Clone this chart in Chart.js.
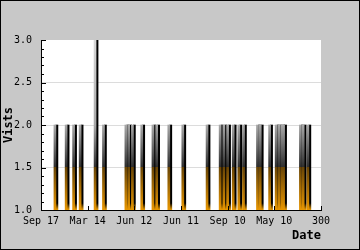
<!DOCTYPE html>
<html>
<head>
<meta charset="utf-8">
<script src="https://cdn.jsdelivr.net/npm/chart.js@4"></script>
<style>
  html, body { margin: 0; padding: 0; background: #c8c8c8; }
  #wrap { width: 360px; height: 250px; }
</style>
</head>
<body>
<div id="wrap"><canvas id="visitsChart" width="360" height="250"></canvas></div>
<script>
// Tick labels along the bottom (one every 50 units)
const xLabels = ['Sep 17', 'Mar 14', 'Jun 12', 'Jun 11', 'Sep 10', 'May 10', '300'];
// Where each spike sits on the 0..300 axis
const dayIndex = [16, 28, 36, 43, 59, 68, 92, 95, 99, 109, 121, 125, 138, 153, 179, 193, 197, 201, 207, 213, 218, 233, 236, 246, 253, 256, 259, 261, 279, 282, 287];
// Visits per spike
const visits = [2, 2, 2, 2, 3, 2, 2, 2, 2, 2, 2, 2, 2, 2, 2, 2, 2, 2, 2, 2, 2, 2, 2, 2, 2, 2, 2, 2, 2, 2, 2];

const spikeData = dayIndex.map((d, i) => ({ x: d, y: [1, visits[i]] }));

Chart.defaults.font.family = 'DejaVu Sans Mono';
Chart.defaults.font.size = 10;
Chart.defaults.color = '#000';

// shadow part: grey on top, brown/orange below 1.5
function shadowFill(context) {
  const chart = context.chart;
  if (!chart.chartArea) return '#555';
  const y = chart.scales.y;
  const top = y.getPixelForValue(3);
  const bottom = y.getPixelForValue(1);
  const mid = y.getPixelForValue(1.5);
  const two = y.getPixelForValue(2);
  const g = chart.ctx.createLinearGradient(0, top, 0, bottom);
  const f = p => (p - top) / (bottom - top);
  g.addColorStop(0, '#d8d8d8');
  g.addColorStop(f(two), '#a8a8a8');
  g.addColorStop(f(mid) - 0.001, '#2e2e2e');
  g.addColorStop(f(mid), '#6a4606');
  g.addColorStop(1, '#e89600');
  return g;
}

// black line with a short orange foot
function lineFill(context) {
  const chart = context.chart;
  if (!chart.chartArea) return '#000';
  const y = chart.scales.y;
  const top = y.getPixelForValue(3);
  const bottom = y.getPixelForValue(1);
  const g = chart.ctx.createLinearGradient(0, top, 0, bottom);
  g.addColorStop(0, '#000');
  g.addColorStop(0.96, '#000');
  g.addColorStop(1, '#f0a000');
  return g;
}

const framePlugin = {
  id: 'frame',
  beforeDraw(chart) {
    const ctx = chart.ctx;
    const a = chart.chartArea;
    ctx.save();
    ctx.fillStyle = '#c8c8c8';
    ctx.fillRect(0, 0, chart.width, chart.height);
    ctx.fillStyle = '#fff';
    ctx.fillRect(a.left, a.top, a.right - a.left, a.bottom - a.top);
    ctx.restore();
  },
  afterDraw(chart) {
    const ctx = chart.ctx;
    const a = chart.chartArea;
    const y = chart.scales.y;
    const x = chart.scales.x;
    ctx.save();
    ctx.strokeStyle = '#000';
    ctx.lineWidth = 1;
    ctx.beginPath();
    // small inward ticks on the value axis
    for (let v = 10; v <= 30; v++) {
      const py = Math.round(y.getPixelForValue(v / 10)) + 0.5;
      const len = v % 5 === 0 ? 5 : 3;
      ctx.moveTo(a.left, py);
      ctx.lineTo(a.left + len, py);
    }
    // inward ticks on the date axis
    for (let v = 50; v <= 300; v += 50) {
      const px = Math.round(x.getPixelForValue(v)) + 0.5;
      ctx.moveTo(px, a.bottom);
      ctx.lineTo(px, a.bottom - 4);
    }
    ctx.stroke();
    ctx.strokeRect(0.5, 0.5, chart.width - 1, chart.height - 1);
    ctx.restore();
  }
};

new Chart(document.getElementById('visitsChart'), {
  type: 'bar',
  data: {
    datasets: [
      {
        label: 'shadow',
        data: spikeData,
        backgroundColor: shadowFill,
        barThickness: 2,
        borderWidth: 0
      },
      {
        label: 'Vists',
        data: spikeData,
        backgroundColor: lineFill,
        barThickness: 2,
        borderWidth: 0
      }
    ]
  },
  options: {
    responsive: false,
    animation: false,
    layout: { padding: { top: 40, right: 39, left: 0, bottom: 0 } },
    plugins: {
      legend: { display: false },
      tooltip: { enabled: false }
    },
    scales: {
      x: {
        type: 'linear',
        min: 0,
        max: 300,
        offset: false,
        grid: { display: false, offset: false, drawTicks: false },
        border: { display: true, color: '#000', width: 1 },
        ticks: {
          stepSize: 50,
          padding: 5,
          maxRotation: 0,
          autoSkip: false,
          callback: v => xLabels[Math.round(v / 50)]
        },
        title: {
          display: true,
          text: 'Date',
          align: 'end',
          font: { size: 12, weight: 'bold' },
          padding: { top: 0, bottom: 7 }
        },
        afterFit: s => { s.height = 40; }
      },
      y: {
        min: 1,
        max: 3,
        grid: {
          drawTicks: false,
          color: c => (c.tick && c.tick.value > 1 && c.tick.value < 3) ? '#dcdcdc' : 'rgba(0,0,0,0)'
        },
        border: { display: true, color: '#000', width: 1 },
        ticks: {
          stepSize: 0.5,
          padding: 9,
          callback: v => v.toFixed(1)
        },
        title: {
          display: true,
          text: 'Vists',
          font: { size: 12, weight: 'bold' },
          padding: { top: 2, bottom: 0 }
        },
        afterFit: s => { s.width = 41; }
      }
    }
  },
  plugins: [framePlugin]
});
</script>
</body>
</html>
